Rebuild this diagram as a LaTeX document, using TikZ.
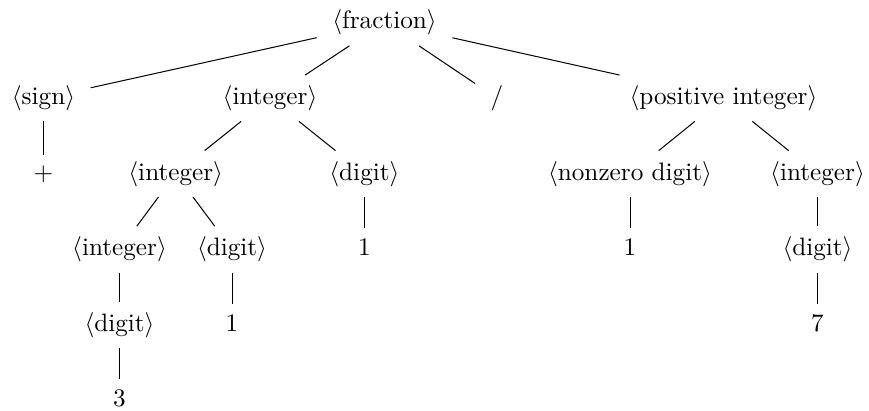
\documentclass[tikz,border=0pt]{standalone}
\usepackage{tikz}

\begin{document}
\begin{tikzpicture}[every node/.style={anchor=base,inner xsep=6pt,inner ysep=4pt}, e/.style={line width=.4pt}]
\useasboundingbox (-5.363,-5.328) rectangle (6.757,0.404);
% level 0
\node (fr) at (0,0)          {$\langle$fraction$\rangle$};
% level 1
\node (sg) at (-4.756,-1.054) {$\langle$sign$\rangle$};
\node (ia) at (-1.597,-1.054) {$\langle$integer$\rangle$};
\node (sl) at (1.569,-1.054)  {/};
\node (pi) at (4.728,-1.054)  {$\langle$positive integer$\rangle$};
% level 2
\node (pl) at (-4.756,-2.108) {$+$};
\node (ib) at (-2.912,-2.108) {$\langle$integer$\rangle$};
\node (da) at (-0.280,-2.108) {$\langle$digit$\rangle$};
\node (nz) at (3.424,-2.108)  {$\langle$nonzero digit$\rangle$};
\node (ic) at (6.039,-2.108)  {$\langle$integer$\rangle$};
% level 3
\node (id) at (-3.696,-3.162) {$\langle$integer$\rangle$};
\node (db) at (-2.127,-3.162) {$\langle$digit$\rangle$};
\node (oa) at (-0.280,-3.162) {1};
\node (ob) at (3.424,-3.162)  {1};
\node (dc) at (6.039,-3.162)  {$\langle$digit$\rangle$};
% level 4
\node (dd) at (-3.696,-4.216) {$\langle$digit$\rangle$};
\node (oc) at (-2.127,-4.216) {1};
\node (sv) at (6.039,-4.216)  {7};
% level 5
\node (th) at (-3.696,-5.270) {3};
\draw[e] (fr)--(sg);
\draw[e] (fr)--(ia);
\draw[e] (fr)--(sl);
\draw[e] (fr)--(pi);
\draw[e] (sg)--(pl);
\draw[e] (ia)--(ib);
\draw[e] (ia)--(da);
\draw[e] (ib)--(id);
\draw[e] (ib)--(db);
\draw[e] (id)--(dd);
\draw[e] (dd)--(th);
\draw[e] (db)--(oc);
\draw[e] (da)--(oa);
\draw[e] (pi)--(nz);
\draw[e] (pi)--(ic);
\draw[e] (nz)--(ob);
\draw[e] (ic)--(dc);
\draw[e] (dc)--(sv);
\end{tikzpicture}
\end{document}
